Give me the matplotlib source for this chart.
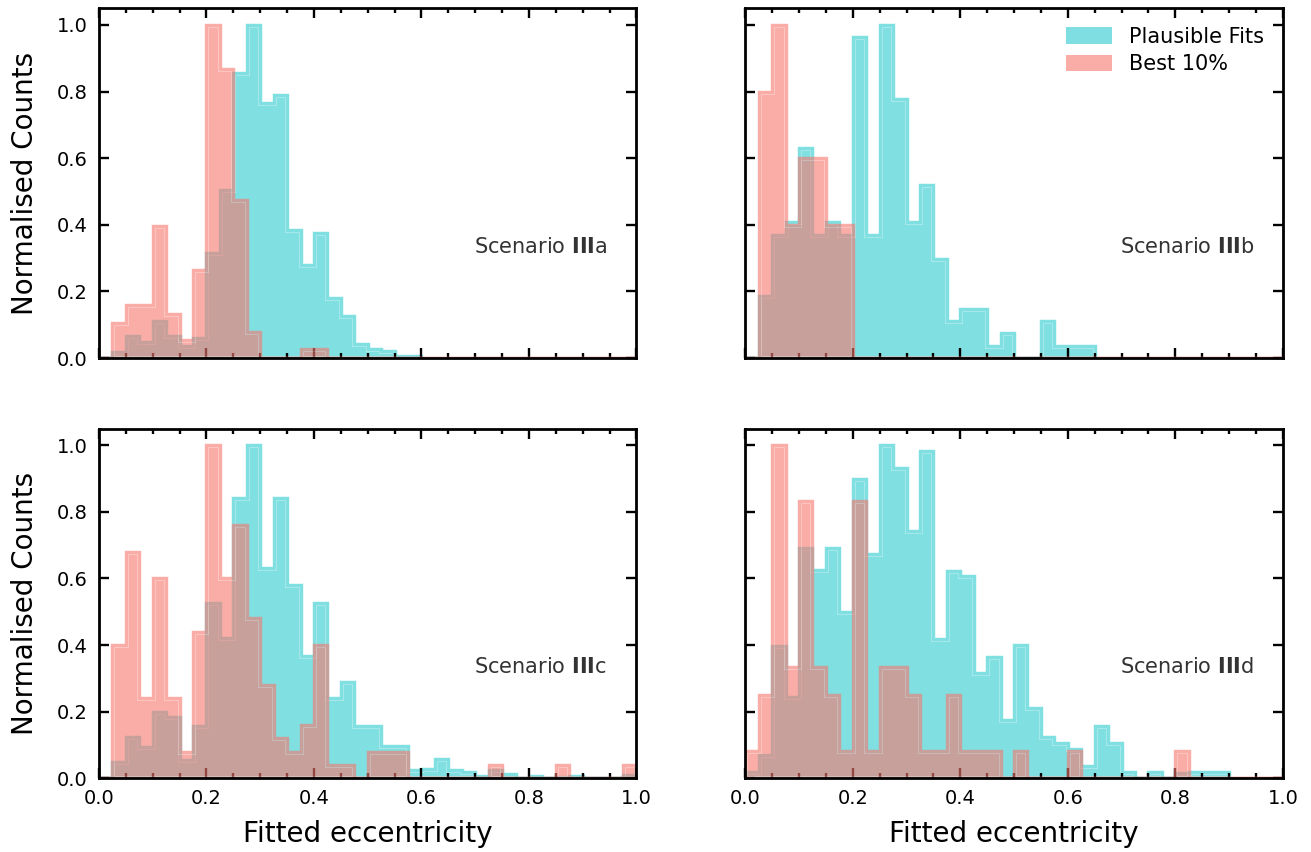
import numpy as np
import matplotlib
matplotlib.use("Agg")
import matplotlib.pyplot as plt
import matplotlib.colors as mcolors
from matplotlib.artist import Artist, allow_rasterization
from matplotlib.patches import Polygon, Patch
from matplotlib.ticker import MultipleLocator

# ---------------- data (normalised counts per 0.025-wide bin, starting at e = 0) ----------------
bin_width = 0.025
bin_edges = np.round(np.arange(0.0, 1.0 + bin_width / 2, bin_width), 4)

# Scenario IIIa
plausible_a = [0.0, 0.018, 0.065, 0.047, 0.11, 0.065, 0.037, 0.06, 0.315, 0.505,
               0.855, 1.0, 0.765, 0.79, 0.385, 0.28, 0.375, 0.18, 0.125, 0.043,
               0.027, 0.022, 0.005, 0.005]
best_a = [0.0, 0.105, 0.158, 0.158, 0.395, 0.132, 0.053, 0.263, 1.0, 0.868,
          0.474, 0.079, 0.0, 0.0, 0.0, 0.026, 0.026, 0.0, 0.0, 0.0,
          0.0, 0.0, 0.0, 0.0, 0.0, 0.0, 0.0, 0.0, 0.0, 0.0,
          0.0, 0.0, 0.0, 0.0, 0.0, 0.0, 0.0, 0.0, 0.0, 0.0]

# Scenario IIIb
plausible_b = [0.0, 0.185, 0.37, 0.407, 0.63, 0.37, 0.407, 0.37, 0.963, 0.37,
               1.0, 0.778, 0.407, 0.519, 0.296, 0.111, 0.148, 0.148, 0.037, 0.074,
               0.0, 0.0, 0.111, 0.037, 0.037, 0.037]
best_b = [0.0, 0.8, 1.0, 0.4, 0.6, 0.6, 0.4, 0.4, 0.0, 0.0,
          0.0, 0.0, 0.0, 0.0, 0.0, 0.0, 0.0, 0.0, 0.0, 0.0,
          0.0, 0.0, 0.0, 0.0, 0.0, 0.0, 0.0, 0.0, 0.0, 0.0,
          0.0, 0.0, 0.0, 0.0, 0.0, 0.0, 0.0, 0.0, 0.0, 0.0]

# Scenario IIIc
plausible_c = [0.0, 0.05, 0.125, 0.095, 0.2, 0.185, 0.055, 0.158, 0.526, 0.421,
               0.842, 1.0, 0.632, 0.842, 0.579, 0.368, 0.526, 0.24, 0.289, 0.158,
               0.158, 0.097, 0.097, 0.026, 0.028, 0.057, 0.025, 0.02, 0.008, 0.025,
               0.012, 0.0, 0.008, 0.0, 0.005, 0.008, 0.0, 0.0, 0.0, 0.01]
best_c = [0.0, 0.4, 0.68, 0.24, 0.6, 0.24, 0.08, 0.44, 1.0, 0.6,
          0.76, 0.48, 0.28, 0.12, 0.08, 0.16, 0.4, 0.04, 0.04, 0.0,
          0.08, 0.08, 0.08, 0.0, 0.0, 0.0, 0.0, 0.0, 0.0, 0.04,
          0.0, 0.0, 0.0, 0.0, 0.04, 0.0, 0.0, 0.0, 0.0, 0.04]

# Scenario IIId
plausible_d = [0.02, 0.07, 0.397, 0.243, 0.69, 0.625, 0.69, 0.5, 0.898, 0.673,
               1.0, 0.932, 0.743, 0.983, 0.417, 0.623, 0.607, 0.315, 0.365, 0.175,
               0.4, 0.21, 0.125, 0.107, 0.088, 0.038, 0.158, 0.107, 0.02, 0.0,
               0.02, 0.0, 0.017, 0.02, 0.02, 0.02]
best_d = [0.083, 0.25, 1.0, 0.333, 0.833, 0.333, 0.25, 0.083, 0.833, 0.083,
          0.333, 0.333, 0.25, 0.083, 0.083, 0.25, 0.083, 0.083, 0.083, 0.0,
          0.083, 0.0, 0.0, 0.0, 0.083, 0.0, 0.0, 0.0, 0.0, 0.0,
          0.0, 0.0, 0.083, 0.0, 0.0, 0.0, 0.0, 0.0, 0.0, 0.0]

panels = [
    (r"Scenario $\mathbf{III}$a", plausible_a, best_a),
    (r"Scenario $\mathbf{III}$b", plausible_b, best_b),
    (r"Scenario $\mathbf{III}$c", plausible_c, best_c),
    (r"Scenario $\mathbf{III}$d", plausible_d, best_d),
]
series_labels = ["Plausible Fits", "Best 10%"]
x_label = "Fitted eccentricity"
y_label = "Normalised Counts"

cyan = "#00BFC4"
salmon = "#F8766D"
alpha_cyan = 0.5
alpha_salmon = 0.6

plt.rcParams["font.family"] = ["DejaVu Sans"]
plt.rcParams["mathtext.fontset"] = "dejavusans"


class AlphaGroup(Artist):
    """Draws child artists opaquely, then composites them with one group alpha."""

    def __init__(self, children, alpha):
        super().__init__()
        self._kids = children
        self._group_alpha = alpha
        self.set_agg_filter(self._apply)

    def _apply(self, img, dpi):
        out = img.copy()
        out[..., 3] = out[..., 3] * self._group_alpha
        return out, 0, 0

    @allow_rasterization
    def draw(self, renderer):
        if not self.get_visible():
            return
        for k in self._kids:
            k.draw(renderer)


def mix_white(color, frac):
    r, g, b = mcolors.to_rgb(color)
    return (r + (1 - r) * frac, g + (1 - g) * frac, b + (1 - b) * frac)


def draw_hist(ax, values, color, alpha, z):
    edges = bin_edges[: len(values) + 1]
    _, _, patches = ax.hist(edges[:-1], bins=edges, weights=values,
                            histtype="stepfilled")
    xy = patches[0].get_xy()
    patches[0].remove()
    fill = Polygon(xy, closed=True, facecolor=color, edgecolor="none", lw=0)
    seam = Polygon(xy, closed=True, facecolor="none",
                   edgecolor=mix_white(color, 0.38), lw=3.6)
    edge = Polygon(xy, closed=True, facecolor="none", edgecolor=color, lw=2.45)
    for p in (fill, seam, edge):
        p.set_transform(ax.transData)
        p.set_figure(ax.figure)
        p.set_clip_box(ax.bbox)
    seam.set_clip_path(fill)
    grp = AlphaGroup([fill, seam, edge], alpha)
    grp.set_zorder(z)
    ax.add_artist(grp)


fig = plt.figure(figsize=(13.11, 8.52), dpi=100)
W = 0.41
H = 0.4105
positions = [
    (0.0755, 0.5798),
    (0.5685, 0.5798),
    (0.0755, 0.0865),
    (0.5685, 0.0865),
]

axes = []
for i, ((title, plaus, best), (x0, y0)) in enumerate(zip(panels, positions)):
    ax = fig.add_axes([x0, y0, W, H])
    axes.append(ax)
    draw_hist(ax, plaus, cyan, alpha_cyan, 1)
    draw_hist(ax, best, salmon, alpha_salmon, 2)
    ax.set_xlim(0, 1)
    ax.set_ylim(0, 1.05)
    ax.xaxis.set_major_locator(MultipleLocator(0.2))
    ax.xaxis.set_minor_locator(MultipleLocator(0.05))
    ax.yaxis.set_major_locator(MultipleLocator(0.2))
    ax.tick_params(which="both", direction="in", top=True, right=True,
                   width=1.7, labelsize=14, pad=8)
    ax.tick_params(which="major", length=7.5)
    ax.tick_params(which="minor", length=3.8)
    for sp in ax.spines.values():
        sp.set_linewidth(2.0)
    ax.text(0.822, 0.30, title, transform=ax.transAxes, ha="center",
            va="baseline", fontsize=15, color="#333333")
    if i in (1, 3):
        ax.tick_params(labelleft=False)
    else:
        ax.set_ylabel(y_label, fontsize=20, labelpad=13)
    if i in (0, 1):
        ax.tick_params(labelbottom=False)
    else:
        ax.set_xlabel(x_label, fontsize=20, labelpad=8)

handles = [Patch(facecolor=cyan, alpha=alpha_cyan, edgecolor="none"),
           Patch(facecolor=salmon, alpha=alpha_salmon, edgecolor="none")]
axes[1].legend(handles, series_labels, loc="upper right", frameon=False,
               fontsize=15, handlelength=2.25, handleheight=0.85,
               labelspacing=0.35, handletextpad=0.8)

fig.savefig("out.png", dpi=100)
